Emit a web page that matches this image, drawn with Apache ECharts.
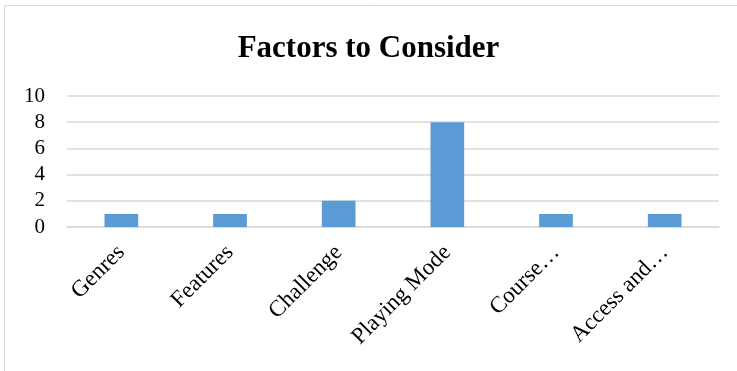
<!DOCTYPE html>
<html>
<head>
<meta charset="utf-8">
<script src="https://cdn.jsdelivr.net/npm/echarts@6/dist/echarts.min.js"></script>
<style>
  html, body { margin: 0; padding: 0; background: #fff; }
  #chart { width: 737px; height: 371px; }
</style>
</head>
<body>
<div id="chart"></div>
<script>
// Factor categories and how often each was mentioned
const categories = ['Genres', 'Features', 'Challenge', 'Playing Mode', 'Course…', 'Access and…'];
const counts = [1, 1, 2, 8, 1, 1];
const yTicks = [0, 2, 4, 6, 8, 10];

const serif = '"Liberation Serif", "Times New Roman", serif';
const chart = echarts.init(document.getElementById('chart'), null, { renderer: 'canvas' });

chart.setOption({
  backgroundColor: '#ffffff',
  animation: false,
  title: {
    text: 'Factors to Consider',
    left: 'center',
    top: 28,
    textStyle: { fontFamily: serif, fontWeight: 'bold', fontSize: 31, color: '#000' }
  },
  graphic: [{
    type: 'rect',
    shape: { x: 4.5, y: 5.5, width: 740, height: 380 },
    style: { fill: 'none', stroke: '#d9d9d9', lineWidth: 1 },
    silent: true
  }],
  grid: { left: 67, right: 18, top: 96, bottom: 144, containLabel: false },
  xAxis: {
    type: 'category',
    data: categories,
    axisTick: { show: false },
    axisLine: { lineStyle: { color: '#d9d9d9', width: 1.5 } },
    axisLabel: {
      rotate: 45,
      interval: 0,
      margin: 22,
      fontFamily: serif,
      fontSize: 23,
      color: '#000'
    }
  },
  yAxis: {
    type: 'value',
    min: yTicks[0],
    max: yTicks[yTicks.length - 1],
    interval: 2,
    axisLine: { show: false },
    axisTick: { show: false },
    splitLine: { lineStyle: { color: '#d9d9d9', width: 1.5 } },
    axisLabel: { fontFamily: serif, fontSize: 21, color: '#000', margin: 22 }
  },
  series: [{
    type: 'bar',
    data: counts,
    barWidth: '31%',
    itemStyle: { color: '#5b9bd5' }
  }]
});
</script>
</body>
</html>
